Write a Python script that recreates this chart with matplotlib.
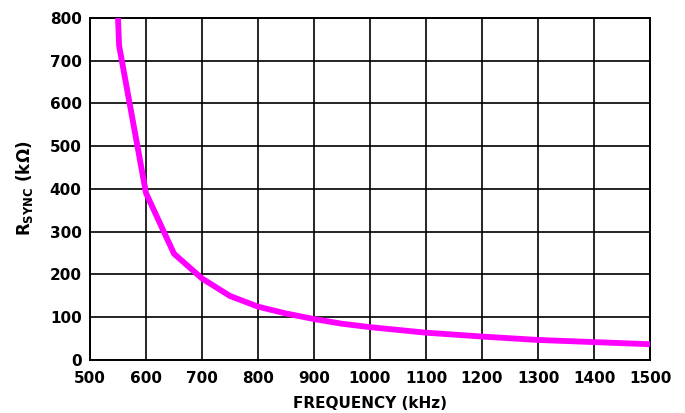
import matplotlib
matplotlib.use("Agg")
import matplotlib.pyplot as plt

freq_khz = [550, 552, 600, 650, 700, 750, 800, 850, 900, 950, 1000, 1100, 1200, 1300, 1400, 1500]
rsync_kohm = [800, 735, 390, 248, 190, 149, 124, 108, 95, 84, 76, 63, 54, 46, 41, 36]
x_ticks = [500, 600, 700, 800, 900, 1000, 1100, 1200, 1300, 1400, 1500]
y_ticks = [0, 100, 200, 300, 400, 500, 600, 700, 800]

plt.rcParams['font.family'] = ['DejaVu Sans']
plt.rcParams['font.weight'] = 'bold'
plt.rcParams['mathtext.fontset'] = 'custom'
plt.rcParams['mathtext.rm'] = 'DejaVu Sans:bold'
plt.rcParams['mathtext.bf'] = 'DejaVu Sans:bold'
plt.rcParams['mathtext.it'] = 'DejaVu Sans:bold'

fig = plt.figure(figsize=(6.85, 4.13), dpi=100)
ax = fig.add_axes([90/685, 1-359.6/413, 560/685, 341.6/413])

ax.plot(freq_khz, rsync_kohm, color='#ff00ff', lw=4.2, solid_capstyle='butt',
        solid_joinstyle='miter', zorder=3)

ax.set_xlim(500, 1500)
ax.set_ylim(0, 800)
ax.set_xticks(x_ticks)
ax.set_yticks(y_ticks)
ax.grid(True, color='black', lw=1.2)
for s in ax.spines.values():
    s.set_color('black')
    s.set_linewidth(1.4)
ax.tick_params(length=0, labelsize=11)
ax.tick_params(axis='y', pad=6)
ax.tick_params(axis='x', pad=8)
for lab in ax.get_xticklabels() + ax.get_yticklabels():
    lab.set_fontweight('bold')

ax.set_xlabel('FREQUENCY (kHz)', fontsize=11, fontweight='bold')
ax.xaxis.set_label_coords(0.5, -(396-359.6)/341.6)
ax.set_ylabel(r'$\mathregular{R_{SYNC}}$ (kΩ)', fontsize=12, fontweight='bold')
ax.yaxis.set_label_coords(-(90-35)/560, 0.5)

fig.savefig('out.png', dpi=100)
